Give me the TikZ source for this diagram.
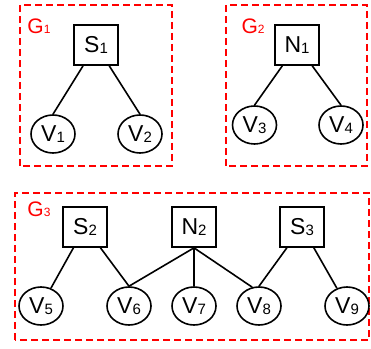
\documentclass[tikz,border=0pt]{standalone}
\usepackage{fontspec}
\setmainfont{Liberation Sans}
\usetikzlibrary{shapes.geometric}
\newcommand{\sub}[1]{\raisebox{-1pt}{\fontsize{15pt}{18pt}\selectfont #1}}
\newcommand{\gsub}[1]{\raisebox{-0.5pt}{\fontsize{12pt}{14pt}\selectfont #1}}
\begin{document}
\begin{tikzpicture}[x=1pt, y=1pt,
    factor/.style={draw, line width=1.7pt, minimum width=44pt, minimum height=40pt,
        inner sep=0pt, font=\fontsize{23pt}{27pt}\selectfont},
    var/.style={draw, ellipse, line width=1.6pt, minimum width=44pt, minimum height=38pt,
        inner sep=0pt, font=\fontsize{23pt}{27pt}\selectfont},
    group/.style={draw=red, dash pattern=on 7pt off 4pt, line width=2pt},
    glabel/.style={text=red, font=\fontsize{21pt}{25pt}\selectfont},
    edge/.style={line width=1.6pt}]
    \useasboundingbox (0,0) rectangle (371,348);
    % groups
    \draw[group] (20,182) rectangle (172,343);
    \draw[group] (226,182) rectangle (367,343);
    \draw[group] (15,8) rectangle (369,155);
    \node[glabel] (g1) at (39,322) {G\gsub{1}};
    \node[glabel] (g2) at (253,322) {G\gsub{2}};
    \node[glabel] (g3) at (39,139) {G\gsub{3}};
    % factors
    \node[factor] (S1) at (96,303) {S\sub{1}};
    \node[factor] (N1) at (297,303) {N\sub{1}};
    \node[factor] (S2) at (85,121) {S\sub{2}};
    \node[factor] (N2) at (194,121) {N\sub{2}};
    \node[factor] (S3) at (302,121) {S\sub{3}};
    % variables
    \node[var] (V1) at (53,214) {V\sub{1}};
    \node[var] (V2) at (140,214) {V\sub{2}};
    \node[var] (V3) at (254.5,223) {V\sub{3}};
    \node[var] (V4) at (341,223) {V\sub{4}};
    \node[var] (V5) at (41,42) {V\sub{5}};
    \node[var] (V6) at (129,42) {V\sub{6}};
    \node[var] (V7) at (194,42) {V\sub{7}};
    \node[var] (V8) at (259,42) {V\sub{8}};
    \node[var] (V9) at (347,42) {V\sub{9}};
    % edges
    \foreach \a/\b in {S1/V1.north, S1/V2.north, N1/V3.north, N1/V4.north,
        S2/V5, S2/V6.north, N2.south/V6.north, N2/V7, N2.south/V8.110,
        S3/V8.north, S3/V9}
        \draw[edge] (\a) -- (\b);
\end{tikzpicture}
\end{document}
